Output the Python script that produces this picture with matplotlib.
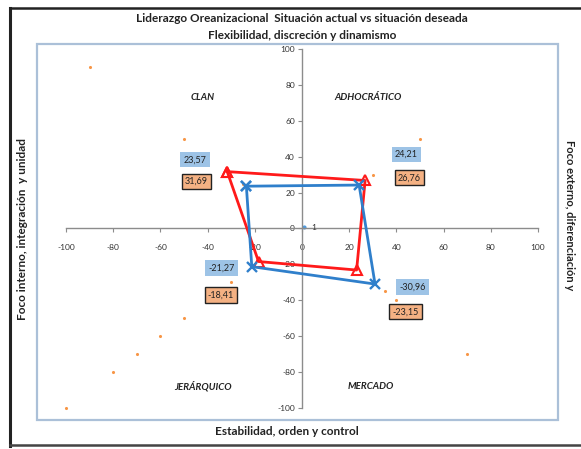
import matplotlib
matplotlib.use("Agg")
import matplotlib.pyplot as plt
from matplotlib.patches import Rectangle
from matplotlib.lines import Line2D
import numpy as np

plt.rcParams['font.family'] = ['Lato', 'DejaVu Sans']
plt.rcParams['axes.unicode_minus'] = False

# datos
actual_x = [-23.57, 24.21, 30.96, -21.27]
actual_y = [23.57, 24.21, -30.96, -21.27]
deseada_x = [-31.69, 26.76, 23.15, -18.41]
deseada_y = [31.69, 26.76, -23.15, -18.41]
guia_x = [-90, -50, 50, 30, -25, -30, -40, -50, -60, -70, -80, -100, 35, 40, 50, 70]
guia_y = [90, 50, 50, 30, 25, -30, -40, -50, -60, -70, -80, -100, -35, -40, -50, -70]
ticks = np.arange(-100, 101, 20)
cuadrantes = ["CLAN", "ADHOCRÁTICO", "JERÁRQUICO", "MERCADO"]
cuad_x = [-42, 28, -42, 29]
cuad_y = [73, 73, -88, -88]

blue = "#2f7fcb"
red = "#ff1a1a"

fig = plt.figure(figsize=(5.81, 4.49), dpi=100)
ax = fig.add_axes([0.0637, 0.0646, 0.8967, 0.8374])
ax.set_xlim(-112.3, 108.5)
ax.set_ylim(-106.7, 102.8)

for s in ["top", "right"]:
    ax.spines[s].set_visible(False)
for s in ["left", "bottom"]:
    ax.spines[s].set_position("zero")
    ax.spines[s].set_bounds(-100, 100)
    ax.spines[s].set_color("#8c8c8c")
    ax.spines[s].set_linewidth(1.0)

ax.set_xticks(ticks)
ax.set_yticks(ticks)
ax.tick_params(axis="both", length=3, color="#8c8c8c", labelsize=6, labelcolor="#333333")
ax.tick_params(axis="x", pad=8)
ax.tick_params(axis="y", pad=2)

# marco del area de trazado
ax.add_patch(Rectangle((0, 0), 1, 1, transform=ax.transAxes, fill=False,
                       edgecolor="#abc0d8", linewidth=1.6, clip_on=False, zorder=0))

# puntos guia
ax.scatter(guia_x, guia_y, s=5, color="#f79646", marker="o", linewidths=0, zorder=2)
ax.scatter([1], [1], s=4, color="#4f9be0", zorder=2)
ax.text(4, 0.5, "1", fontsize=6, color="#333333", va="center")

ax.plot(deseada_x + deseada_x[:1], deseada_y + deseada_y[:1], color=red, lw=2,
        marker="^", ms=7, mfc="none", mec=red, mew=1.5, zorder=4)
ax.plot(actual_x + actual_x[:1], actual_y + actual_y[:1], color=blue, lw=2,
        marker="x", ms=7, mec=blue, mew=1.7, zorder=5)

off_act = [(-37, 19), (34, 22), (27, -2), (-22, -1)]
off_des = [(-22, -7), (32, 2), (35, -30), (-27, -24)]
for x, y, o in zip(actual_x, actual_y, off_act):
    ax.annotate(f"{y:.2f}".replace(".", ","), (x, y), xytext=o, textcoords="offset points",
                ha="center", va="center", fontsize=6.5, color="#222222",
                bbox=dict(boxstyle="square,pad=0.35", fc="#9dc3e6", ec="none"), zorder=6)
for x, y, o in zip(deseada_x, deseada_y, off_des):
    ax.annotate(f"{y:.2f}".replace(".", ","), (x, y), xytext=o, textcoords="offset points",
                ha="center", va="center", fontsize=6.5, color="#222222",
                bbox=dict(boxstyle="square,pad=0.35", fc="#f4b183", ec="#222222", lw=1), zorder=6)

for t, x, y in zip(cuadrantes, cuad_x, cuad_y):
    ax.text(x, y, t, fontsize=7, fontweight="bold", fontstyle="italic", ha="center",
            va="center", color="#222222")

fig.text(0.52, 0.958, "Liderazgo Oreanizacional  Situación actual vs situación deseada",
         ha="center", va="center", fontsize=8.5, fontweight="bold", color="#222222")
fig.text(0.52, 0.92, "Flexibilidad, discreción y dinamismo",
         ha="center", va="center", fontsize=8.5, fontweight="bold", color="#222222")
fig.text(0.494, 0.038, "Estabilidad, orden y control", ha="center", va="center",
         fontsize=8.5, fontweight="bold", color="#222222")
fig.text(0.038, 0.49, "Foco interno, integración  y unidad", rotation=90, ha="center",
         va="center", fontsize=8.5, fontweight="bold", color="#222222")
fig.text(0.981, 0.52, "Foco externo, diferenciación y", rotation=-90, ha="center",
         va="center", fontsize=8, fontweight="bold", color="#222222")

# marco exterior
fig.add_artist(Line2D([0.017, 1.0], [0.982, 0.982], color="#222222", lw=1.8))
fig.add_artist(Line2D([0.017, 0.017], [0.982, 0.007], color="#222222", lw=2.2))
fig.add_artist(Line2D([0.017, 1.0], [0.009, 0.009], color="#444444", lw=1.8))

fig.savefig("out.png", dpi=100)
